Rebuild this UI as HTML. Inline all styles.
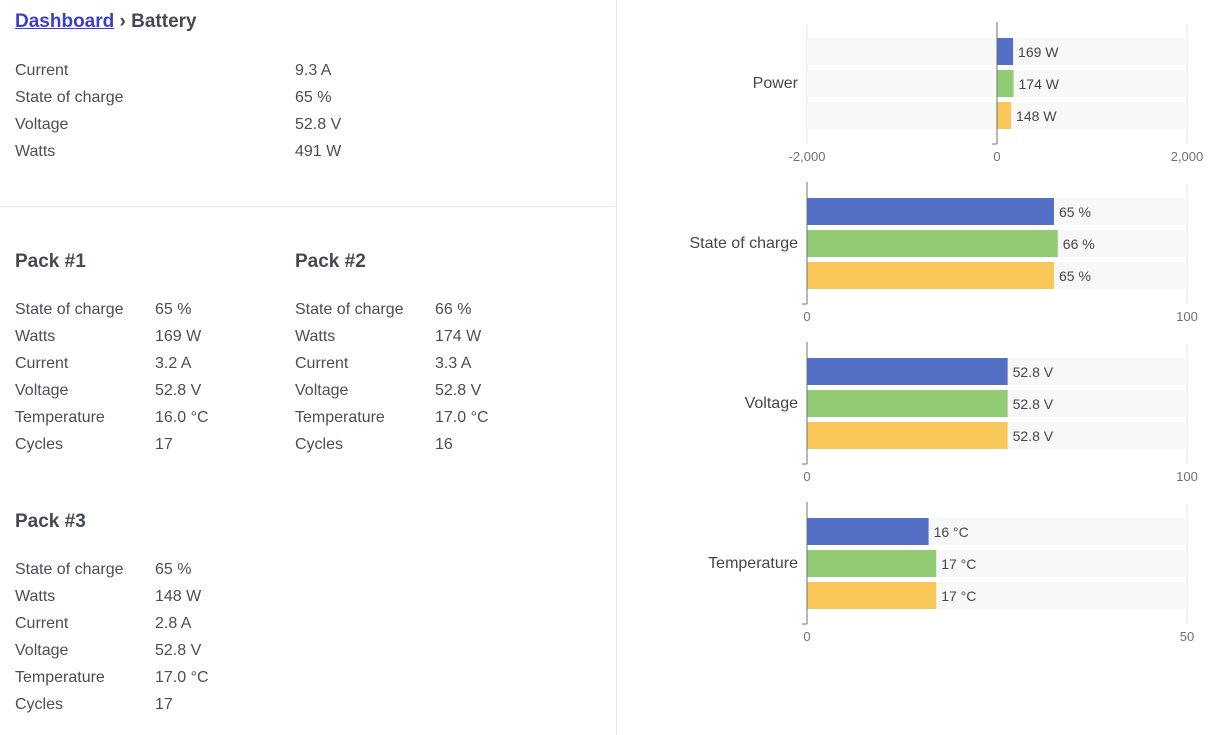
<!DOCTYPE html>
<html><head><meta charset="utf-8"><style>
body{margin:0;width:1230px;height:735px;background:#fff;font-family:"Liberation Sans",sans-serif;color:#4a4e57;position:relative;overflow:hidden}
.a{position:absolute;font-size:16px;white-space:nowrap;line-height:20px}
.h{font-weight:bold;font-size:19px;color:#454a52}
a{color:#3b3fc9;font-weight:bold}
</style></head><body>
<div class="a h" style="left:15px;top:12px"><a href="#">Dashboard</a> › Battery</div>
<div>
<div class="a" style="left:15px;top:61px">Current</div><div class="a" style="left:295px;top:61px">9.3 A</div>
<div class="a" style="left:15px;top:88px">State of charge</div><div class="a" style="left:295px;top:88px">65 %</div>
<div class="a" style="left:15px;top:115px">Voltage</div><div class="a" style="left:295px;top:115px">52.8 V</div>
<div class="a" style="left:15px;top:142px">Watts</div><div class="a" style="left:295px;top:142px">491 W</div>
</div>
<div style="position:absolute;left:0;top:206px;width:615px;height:1px;background:#e8e8e8"></div>
<div style="position:absolute;left:616px;top:0;width:1px;height:735px;background:#e8e8e8"></div>
<div id="packs"></div>
<svg id="ch" width="1230" height="735" style="position:absolute;left:0;top:0"></svg>
<script>
const packs=[["Pack #1",15,252,["65 %","169 W","3.2 A","52.8 V","16.0 °C","17"]],["Pack #2",295,252,["66 %","174 W","3.3 A","52.8 V","17.0 °C","16"]],["Pack #3",15,512,["65 %","148 W","2.8 A","52.8 V","17.0 °C","17"]]];
const keys=["State of charge","Watts","Current","Voltage","Temperature","Cycles"];
const P=document.getElementById('packs');
packs.forEach(p=>{let h=`<div class="a h" style="left:${p[1]}px;top:${p[2]}px">${p[0]}</div>`;
keys.forEach((k,i)=>{h+=`<div class="a" style="left:${p[1]}px;top:${p[2]+48+27*i}px">${k}</div><div class="a" style="left:${p[1]+140}px;top:${p[2]+48+27*i}px">${p[3][i]}</div>`});
const d=document.createElement('div');d.innerHTML=h;


P.appendChild(d)});

const categories=["Power","State of charge","Voltage","Temperature"];
const packA=[169,65,52.8,16];
const packB=[174,66,52.8,17];
const packC=[148,65,52.8,17];
const units=[" W"," %"," V"," °C"];
const mins=[-2000,0,0,0];
const maxs=[2000,100,100,50];
const tickLabels=[["-2,000","0","2,000"],["0","100"],["0","100"],["0","50"]];
const tickVals=[[-2000,0,2000],[0,100],[0,100],[0,50]];
const colors=["#5470c6","#91cc75","#fac858"];
const svg=document.getElementById('ch');const NS="http://www.w3.org/2000/svg";
function el(t,a,txt){const e=document.createElementNS(NS,t);for(const k in a)e.setAttribute(k,a[k]);if(txt!=null)e.textContent=txt;svg.appendChild(e);return e}
const X0=807,X1=1187;
categories.forEach((c,i)=>{
 const top=24+160*i;
 const x=v=>X0+(v-mins[i])/(maxs[i]-mins[i])*(X1-X0);
 [mins[i],maxs[i]].forEach(v=>{const g=el('line',{x1:x(v),x2:x(v),y1:top,y2:top+120,stroke:'#e6e6e6'});
 
 });
 const vals=[packA[i],packB[i],packC[i]];
 vals.forEach((v,k)=>{const y=top+14+32*k;
  const bg=el('rect',{x:X0,y:y,width:X1-X0,height:27,fill:'#f8f8f8'});
  
  
  const x0=x(0),xv=x(v);
  const b=el('rect',{x:Math.min(x0,xv),y:y,width:Math.abs(xv-x0),height:27,fill:colors[k]});
  
  
  const t=el('text',{x:Math.max(x0,xv)+5,y:y+19,'font-size':14,fill:'#464646'},String(v)+units[i]);
  
  
 });
 const ax=el('line',{x1:x(0),x2:x(0),y1:top-2,y2:top+120,stroke:'#6e7079'});
 
 
 el('line',{x1:x(0)-5,x2:x(0),y1:top+120,y2:top+120,stroke:'#6e7079'});
 const lb=el('text',{x:798,y:top+64,'text-anchor':'end','font-size':16,fill:'#464646'},c);
 
 
 tickVals[i].forEach((v,j)=>{const t=el('text',{x:x(v),y:top+137,'text-anchor':'middle','font-size':13,fill:'#6e7079'},tickLabels[i][j]);
 
 });
});
</script>
</body></html>
